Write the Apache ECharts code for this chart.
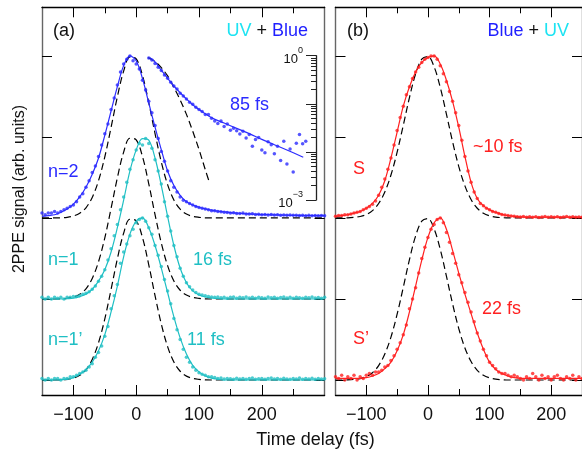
<!DOCTYPE html>
<html>
<head>
<meta charset="utf-8">
<script src="https://cdn.jsdelivr.net/npm/echarts@6/dist/echarts.min.js"></script>
<style>
  html, body { margin: 0; padding: 0; background: #fff; }
  #chart { width: 582px; height: 454px; }
</style>
</head>
<body>
<div id="chart"></div>
<script>
// ---- data (normalized traces, each drawn with amplitude 2 above its baseline) ----
const tA = [-150,-145,-140,-135,-130,-125,-120,-115,-110,-105,-100,-95,-90,-85,-80,-75,-70,-65,-60,-55,
  -50,-45,-40,-35,-30,-25,-20,-15,-10,-5,0,5,10,15,20,25,30,35,40,45,50,55,60,65,70,75,80,85,90,95,
  100,105,110,115,120,125,130,135,140,145,150,155,160,165,170,175,180,185,190,195,200,205,210,215,220,225,230,235,240,245,
  250,255,260,265,270,275,280,285,290,295,300]
const tB = tA.slice(0, 81)

const n2Pts = [0.03,0.02,0.03,0.03,0.04,0.03,0.04,0.05,0.06,0.07,
  0.08,0.10,0.13,0.15,0.19,0.23,0.28,0.32,0.38,0.45,
  0.52,0.58,0.67,0.74,0.82,0.90,0.95,0.98,1.00,0.97,
  0.95,0.92,0.85,0.79,0.72,0.65,0.57,0.49,0.41,0.35,
  0.29,0.23,0.19,0.16,0.13,0.11,0.10,0.09,0.08,0.07,
  0.065,0.06,0.055,0.05,0.045,0.045,0.04,0.038,0.035,0.033,
  0.03,0.032,0.028,0.027,0.03,0.025,0.024,0.026,0.022,0.023,
  0.02,0.022,0.019,0.021,0.018,0.02,0.017,0.019,0.016,0.018,
  0.016,0.017,0.015,0.016,0.014,0.016,0.014,0.015,0.013,0.015,
  0.014]
const n1Pts = [0.01,0.00,0.01,0.00,0.01,0.005,0.01,0.00,0.01,0.01,
  0.015,0.015,0.02,0.03,0.035,0.045,0.06,0.08,0.11,0.14,
  0.18,0.24,0.31,0.39,0.46,0.55,0.63,0.72,0.80,0.86,
  0.92,0.96,0.95,0.99,0.96,0.93,0.86,0.79,0.71,0.60,
  0.51,0.42,0.33,0.26,0.19,0.14,0.10,0.075,0.055,0.04,
  0.03,0.025,0.02,0.015,0.012,0.01,0.012,0.008,0.01,0.005,
  0.01,0.012,0.005,0.01,0.008,0.012,0.006,0.01,0.004,0.011,
  0.008,0.005,0.012,0.007,0.01,0.004,0.009,0.012,0.006,0.01,
  0.005,0.011,0.008,0.004,0.01,0.007,0.012,0.006,0.009,0.005,
  0.01]
const n1pPts = [0.01,0.00,0.01,0.00,0.01,0.01,0.00,0.01,0.01,0.02,
  0.02,0.03,0.04,0.05,0.06,0.08,0.10,0.14,0.17,0.21,
  0.27,0.33,0.44,0.52,0.59,0.72,0.79,0.84,0.89,0.93,
  0.97,0.99,1.00,0.98,0.94,0.90,0.83,0.77,0.70,0.62,
  0.55,0.47,0.38,0.31,0.25,0.19,0.14,0.11,0.08,0.06,
  0.045,0.035,0.03,0.02,0.02,0.015,0.01,0.012,0.006,0.01,
  0.008,0.004,0.011,0.006,0.01,0.005,0.009,0.012,0.005,0.008,
  0.01,0.004,0.009,0.012,0.006,0.01,0.005,0.011,0.007,0.004,
  0.01,0.006,0.012,0.005,0.009,0.007,0.011,0.004,0.01,0.006,
  0.008]
const sPts = [0.01,0.015,0.015,0.02,0.02,0.025,0.03,0.035,0.04,0.05,
  0.06,0.07,0.085,0.105,0.14,0.19,0.24,0.30,0.37,0.45,
  0.54,0.62,0.69,0.76,0.81,0.86,0.90,0.93,0.96,0.98,
  0.99,1.00,1.00,0.98,0.94,0.89,0.84,0.78,0.72,0.65,
  0.57,0.48,0.38,0.29,0.22,0.16,0.12,0.09,0.075,0.06,
  0.05,0.04,0.035,0.028,0.022,0.018,0.015,0.012,0.01,0.008,
  0.006,0.009,0.004,0.007,0.005,0.008,0.003,0.006,0.009,0.004,
  0.007,0.005,0.008,0.003,0.006,0.009,0.004,0.007,0.005,0.006,
  0.004]
const spPts = [0.02,0.01,0.03,0.00,0.02,0.01,0.03,0.00,0.02,0.01,
  0.03,0.04,0.03,0.05,0.05,0.06,0.08,0.09,0.12,0.15,
  0.19,0.23,0.28,0.34,0.44,0.50,0.57,0.66,0.75,0.82,
  0.88,0.93,0.96,0.99,1.00,0.97,0.91,0.85,0.78,0.72,
  0.65,0.60,0.54,0.48,0.42,0.36,0.29,0.24,0.19,0.15,
  0.11,0.09,0.07,0.05,0.04,0.04,0.03,0.02,0.03,0.02,
  0.01,0.00,0.02,0.01,0.04,0.02,0.00,0.03,0.01,0.02,
  0.00,0.02,0.03,0.01,0.00,0.02,0.01,0.03,0.00,0.02,
  0.01]

// fitted curves and cross-correlation (dashed), 10 fs steps
const tFitA = [-150,-140,-130,-120,-110,-100,-90,-80,-70,-60,-50,-40,-30,-20,-10,0,10,20,30,40,
  50,60,70,80,90,100,110,120,130,140,150,160,170,180,190,200,210,220,230,240,250,260,270,280,290,300]
const tFitB = tFitA.slice(0, 41)
const n2Fit = [0.01,0.015,0.02,0.035,0.055,0.085,0.13,0.19,0.27,0.37,
  0.51,0.66,0.81,0.94,1.0,0.97,0.86,0.71,0.56,0.42,
  0.29,0.20,0.14,0.10,0.08,0.066,0.056,0.048,0.042,0.037,
  0.033,0.03,0.027,0.025,0.023,0.021,0.02,0.019,0.018,0.017,
  0.016,0.015,0.015,0.014,0.014,0.014]
const n1Fit = [0,0,0,0,0.002,0.005,0.015,0.03,0.06,0.11,
  0.18,0.29,0.44,0.61,0.79,0.92,0.99,0.98,0.87,0.70,
  0.51,0.33,0.19,0.10,0.05,0.025,0.012,0.006,0.003,0,
  0,0,0,0,0,0,0,0,0,0,0,0,0,0,0,0]
const n1pFit = [0,0,0,0.002,0.005,0.015,0.035,0.065,0.11,0.18,
  0.28,0.42,0.58,0.76,0.90,0.98,1.0,0.94,0.83,0.69,
  0.54,0.39,0.26,0.16,0.09,0.05,0.025,0.012,0.005,0,
  0,0,0,0,0,0,0,0,0,0,0,0,0,0,0,0]
const sFit = [0.01,0.015,0.02,0.03,0.04,0.06,0.09,0.14,0.23,0.37,
  0.53,0.69,0.81,0.90,0.96,0.99,1.0,0.95,0.85,0.72,
  0.56,0.38,0.22,0.12,0.075,0.05,0.035,0.022,0.014,0.01,
  0.007,0.005,0.005,0.005,0.005,0.005,0.005,0.005,0.005,0.005,0.005]
const spFit = [0.01,0.01,0.01,0.01,0.01,0.015,0.025,0.04,0.07,0.11,
  0.18,0.28,0.42,0.58,0.74,0.88,0.97,1.0,0.93,0.80,
  0.66,0.53,0.41,0.29,0.19,0.11,0.065,0.04,0.025,0.015,
  0.01,0.01,0.01,0.01,0.01,0.01,0.01,0.01,0.01,0.01,0.01]
const dashA = [0,0,0,0.001,0.004,0.012,0.029,0.063,0.127,0.23,
  0.377,0.559,0.748,0.906,0.992,0.982,0.879,0.711,0.521,0.345,
  0.206,0.111,0.054,0.024,0.01,0.004,0.001,0,0,0,
  0,0,0,0,0,0,0,0,0,0,0,0,0,0,0,0]
const dashB = [0,0,0.001,0.004,0.009,0.021,0.045,0.089,0.16,0.265,
  0.406,0.572,0.743,0.889,0.98,0.996,0.933,0.806,0.641,0.47,
  0.318,0.198,0.114,0.06,0.029,0.013,0.005,0.002,0,0,
  0,0,0,0,0,0,0,0,0,0,0]

// inset (n=2 on log scale), values are log10 of signal
const insetT = [20,25,30,35,40,45,50,55,60,65,70,75,80,85,90,95,100,105,110,115,120,125,130,135,140,145,
  150,155,160,165,170,175,180,185,190,195,200,205,210,215,220,225,230,235,240,245,250,255,260,265,270]
const insetLog = [-0.05,-0.09,-0.16,-0.24,-0.31,-0.40,-0.47,-0.55,-0.63,-0.69,-0.78,-0.84,-0.90,-0.97,-1.01,-1.07,
  -1.12,-1.16,-1.22,-1.22,-1.30,-1.36,-1.41,-1.36,-1.47,-1.42,-1.55,-1.51,-1.56,-1.63,-1.57,-1.71,-1.64,-1.88,
  -1.74,-1.70,-1.96,-2.02,-1.79,-1.85,-2.04,-1.88,-2.18,-1.78,-2.25,-1.94,-2.42,-1.82,-1.64,-1.83,-1.78]
const insetFitT = [22,30,40,50,60,70,80,90,100,120,140,160,180,200,220,240,266]
const insetFitLog = [-0.04,-0.13,-0.30,-0.47,-0.63,-0.77,-0.90,-1.02,-1.12,-1.29,-1.40,-1.51,-1.62,-1.74,-1.85,-1.96,-2.11]
const insetDashT = [19,30,40,50,60,70,80,90,100,110,117]
const insetDashLog = [-0.04,-0.12,-0.25,-0.42,-0.66,-0.92,-1.22,-1.57,-1.95,-2.37,-2.65]

const majorTicks = [-100, 0, 100, 200]
const minorTicksA = [-50, 50, 150, 250]
const minorTicksB = [-50, 50, 150]
const yTicks = [0, 1, 2, 3, 4]

const FONT = '"Liberation Sans", Arial, Helvetica, sans-serif'
const BLUE = '#2b2bff'
const CYAN = '#1fbfc4'
const CYAN_T = '#1de3f2'
const RED = '#ff2020'

const trace = (ts, vals, base) => ts.map((t, i) => [t, base + 2 * vals[i]])
const logPts = (ts, vals) => ts.map((t, i) => [t, vals[i]])
const fmtX = v => (v < 0 ? '\u2212' + (-v) : String(v))

function xAx(gridIndex, max, position, ticks, len, withLine, withLabel) {
  return {
    type: 'value', gridIndex, min: -150, max, position,
    splitLine: { show: false },
    axisLine: { show: withLine, onZero: false, lineStyle: { color: '#000', width: 1.3 } },
    axisTick: { show: true, inside: true, length: len, customValues: ticks, lineStyle: { color: '#000', width: 1 } },
    axisLabel: withLabel
      ? { show: true, customValues: majorTicks, formatter: fmtX, fontSize: 18, fontFamily: FONT, color: '#111', margin: 11 }
      : { show: false },
  }
}
function yAx(gridIndex, position, ticks) {
  return {
    type: 'value', gridIndex, min: -0.185, max: 4.6, position,
    splitLine: { show: false },
    axisLine: { show: true, onZero: false, lineStyle: { color: '#666', width: 1.4 } },
    axisTick: { show: true, inside: true, length: 10, customValues: ticks, lineStyle: { color: '#000', width: 1 } },
    axisLabel: { show: false },
  }
}

// inset log axis: decades and 2..9 sub-ticks, in log10 units
const decadeTicks = [-3, -2, -1, 0]
const subTicks = []
for (const d of [-3, -2, -1]) for (const k of [2, 3, 4, 5, 6, 7, 8, 9]) subTicks.push(d + Math.log10(k))

const dots = (xi, yi, data, color) => ({
  type: 'scatter', xAxisIndex: xi, yAxisIndex: yi, data, symbolSize: 3.5,
  itemStyle: { color }, silent: true, z: 4,
})
const curve = (xi, yi, data, color, dashed) => ({
  type: 'line', xAxisIndex: xi, yAxisIndex: yi, data, showSymbol: false, smooth: 0.35,
  lineStyle: { color, width: 1.2, type: dashed ? [7, 4] : 'solid' }, silent: true, z: dashed ? 2 : 3,
})

const txt = (x, y, text, color, align, size) => ({
  type: 'text', x, y, silent: true,
  style: { text, fill: color, font: (size || 18) + 'px ' + FONT, align: align || 'left', verticalAlign: 'middle',
    textAlign: align || 'left', textVerticalAlign: 'middle' },
})

const chart = echarts.init(document.getElementById('chart'))
chart.setOption({
  animation: false,
  grid: [
    { left: 42, top: 7.3, width: 282.6, height: 387.7 },
    { left: 335.5, top: 7.3, width: 250.4, height: 387.7 },
    { left: 42, top: 55.7, width: 274, height: 144.3 },
  ],
  xAxis: [
    xAx(0, 300, 'bottom', majorTicks, 10, true, true),
    xAx(0, 300, 'bottom', minorTicksA, 6, false, false),
    xAx(0, 300, 'top', majorTicks, 10, true, false),
    xAx(0, 300, 'top', minorTicksA, 6, false, false),
    xAx(1, 250, 'bottom', majorTicks, 10, true, true),
    xAx(1, 250, 'bottom', minorTicksB, 6, false, false),
    xAx(1, 250, 'top', majorTicks, 10, true, false),
    xAx(1, 250, 'top', minorTicksB, 6, false, false),
    { type: 'value', gridIndex: 2, min: -150, max: 286.3, show: false, axisLine: { onZero: false } },
  ],
  yAxis: [
    yAx(0, 'left', yTicks),
    yAx(0, 'right', [0, 1, 2]),
    yAx(1, 'left', yTicks),
    yAx(1, 'right', yTicks),
    {
      type: 'value', gridIndex: 2, min: -3, max: 0, position: 'right',
      splitLine: { show: false },
      axisLine: { show: true, onZero: false, lineStyle: { color: '#222', width: 1.3 } },
      axisTick: { show: true, inside: true, length: 10, customValues: decadeTicks, lineStyle: { color: '#222' } },
      axisLabel: {
        show: true, inside: true, margin: 13, customValues: [-3, 0],
        formatter: v => '{b|10}{e|' + (v < 0 ? '\u2212' + (-v) : v) + '}',
        rich: {
          b: { fontSize: 13, fontFamily: FONT, color: '#111', lineHeight: 20, verticalAlign: 'bottom' },
          e: { fontSize: 9, fontFamily: FONT, color: '#111', verticalAlign: 'top' },
        },
      },
    },
    {
      type: 'value', gridIndex: 2, min: -3, max: 0, position: 'right',
      splitLine: { show: false }, axisLine: { show: false, onZero: false }, axisLabel: { show: false },
      axisTick: { show: true, inside: true, length: 5, customValues: subTicks, lineStyle: { color: '#222' } },
    },
  ],
  series: [
    curve(0, 0, trace(tFitA, dashA, 2), '#000', true),
    curve(0, 0, trace(tFitA, dashA, 1), '#000', true),
    curve(0, 0, trace(tFitA, dashA, 0), '#000', true),
    curve(0, 0, trace(tFitA, n2Fit, 2), BLUE, false),
    curve(0, 0, trace(tFitA, n1Fit, 1), CYAN, false),
    curve(0, 0, trace(tFitA, n1pFit, 0), CYAN, false),
    dots(0, 0, trace(tA, n2Pts, 2), BLUE),
    dots(0, 0, trace(tA, n1Pts, 1), CYAN),
    dots(0, 0, trace(tA, n1pPts, 0), CYAN),

    curve(4, 2, trace(tFitB, dashB, 2), '#000', true),
    curve(4, 2, trace(tFitB, dashB, 0), '#000', true),
    curve(4, 2, trace(tFitB, sFit, 2), RED, false),
    curve(4, 2, trace(tFitB, spFit, 0), RED, false),
    dots(4, 2, trace(tB, sPts, 2), RED),
    dots(4, 2, trace(tB, spPts, 0), RED),

    curve(8, 4, logPts(insetDashT, insetDashLog), '#000', true),
    curve(8, 4, logPts(insetFitT, insetFitLog), BLUE, false),
    dots(8, 4, logPts(insetT, insetLog), BLUE),
  ],
  graphic: [
    txt(53, 31, '(a)', '#111'),
    {
      type: 'text', x: 308, y: 31, silent: true,
      style: {
        text: '{c|UV} + {b|Blue}', fill: '#111', font: '18px ' + FONT,
        align: 'right', verticalAlign: 'middle', textAlign: 'right', textVerticalAlign: 'middle',
        rich: { c: { fill: CYAN_T, font: '18px ' + FONT }, b: { fill: '#1f1fff', font: '18px ' + FONT } },
      },
    },
    txt(347, 31, '(b)', '#111'),
    {
      type: 'text', x: 569, y: 31, silent: true,
      style: {
        text: '{b|Blue} + {c|UV}', fill: '#111', font: '18px ' + FONT,
        align: 'right', verticalAlign: 'middle', textAlign: 'right', textVerticalAlign: 'middle',
        rich: { c: { fill: CYAN_T, font: '18px ' + FONT }, b: { fill: '#1f1fff', font: '18px ' + FONT } },
      },
    },
    txt(48, 172, 'n=2', BLUE),
    txt(48, 260, 'n=1', CYAN),
    txt(48, 340, 'n=1\u2019', CYAN),
    txt(230, 105, '85 fs', BLUE),
    txt(193, 260, '16 fs', CYAN),
    txt(187, 340, '11 fs', CYAN),
    txt(353, 169, 'S', RED),
    txt(473, 147, '~10 fs', RED),
    txt(353, 339, 'S\u2019', RED),
    txt(482, 309, '22 fs', RED),
    txt(315.5, 440, 'Time delay (fs)', '#111', 'center'),
    {
      type: 'text', x: 20, y: 189, rotation: Math.PI / 2, silent: true,
      style: { text: '2PPE signal (arb. units)', fill: '#111', font: '16px ' + FONT,
        align: 'center', verticalAlign: 'middle', textAlign: 'center', textVerticalAlign: 'middle' },
    },
  ],
})
</script>
</body>
</html>
